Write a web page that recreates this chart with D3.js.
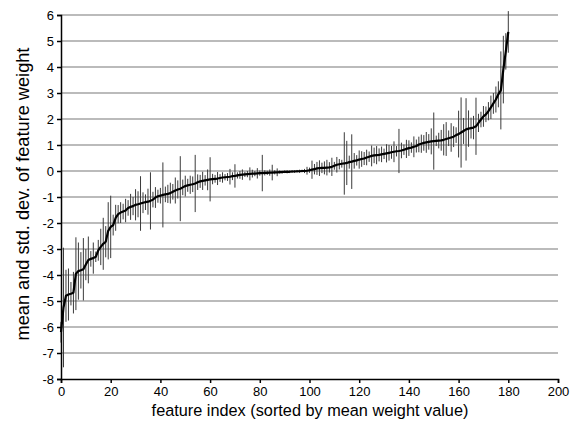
<!DOCTYPE html>
<html>
<head>
<meta charset="utf-8">
<script src="https://cdn.jsdelivr.net/npm/d3@7"></script>
<style>
  body { margin: 0; background: #fff; }
  svg { display: block; font-family: "Liberation Sans", Arial, sans-serif; }
</style>
</head>
<body>
<svg width="578" height="430"></svg>
<script>
const width = 578;
const height = 430;
const margin = { top: 15, right: 20, bottom: 51, left: 61 };

// mean weight per feature, sorted (index 0..180)
const means = [
  -6.2, -5.25, -4.8, -4.75, -4.72, -4.68, -3.95, -3.85, -3.82, -3.78,
  -3.6, -3.42, -3.38, -3.35, -3.3, -3.05, -2.92, -2.8, -2.72, -2.3,
  -2.15, -2.08, -1.8, -1.66, -1.6, -1.56, -1.52, -1.42, -1.38, -1.35,
  -1.3, -1.28, -1.25, -1.22, -1.2, -1.18, -1.15, -1.1, -1.02, -0.97,
  -0.95, -0.92, -0.9, -0.88, -0.85, -0.8, -0.75, -0.71, -0.68, -0.63,
  -0.58, -0.55, -0.53, -0.51, -0.48, -0.43, -0.4, -0.38, -0.36, -0.34,
  -0.32, -0.31, -0.3, -0.29, -0.27, -0.25, -0.24, -0.23, -0.22, -0.2,
  -0.19, -0.17, -0.15, -0.14, -0.13, -0.12, -0.11, -0.1, -0.1, -0.09,
  -0.08, -0.08, -0.07, -0.07, -0.06, -0.06, -0.05, -0.05, -0.04, -0.04,
  -0.03, -0.03, -0.03, -0.02, -0.02, -0.01, -0.01, 0, 0, 0.01,
  0.03, 0.05, 0.07, 0.1, 0.11, 0.12, 0.12, 0.13, 0.14, 0.16,
  0.2, 0.24, 0.26, 0.28, 0.29, 0.31, 0.34, 0.36, 0.39, 0.41,
  0.44, 0.46, 0.48, 0.52, 0.55, 0.58, 0.6, 0.61, 0.62, 0.64,
  0.66, 0.68, 0.7, 0.72, 0.74, 0.76, 0.77, 0.79, 0.82, 0.85,
  0.88, 0.9, 0.93, 0.96, 1.02, 1.05, 1.08, 1.1, 1.12, 1.14,
  1.15, 1.16, 1.17, 1.18, 1.2, 1.23, 1.26, 1.29, 1.32, 1.38,
  1.42, 1.48, 1.54, 1.6, 1.63, 1.65, 1.67, 1.72, 1.85, 1.98,
  2.1, 2.18, 2.3, 2.45, 2.6, 2.75, 2.95, 3.1, 3.9, 4.6,
  5.35
];

// std. dev. per feature
const stdDevs = [
  0.4, 2.3, 1.0, 1.0, 0.45, 0.8, 1.4, 1.1, 0.7, 1.2,
  0.6, 0.9, 0.3, 0.6, 0.2, 0.4, 0.7, 1.0, 0.6, 1.1,
  1.2, 0.4, 0.5, 0.35, 0.4, 0.3, 0.45, 0.3, 0.5, 0.35,
  0.6, 0.5, 1.05, 0.4, 0.3, 0.5, 1.1, 0.3, 0.4, 0.25,
  0.3, 1.25, 0.3, 0.35, 0.4, 0.3, 0.5, 0.35, 1.25, 0.3,
  0.4, 0.25, 0.35, 0.3, 1.1, 0.3, 0.25, 0.35, 0.2, 0.4,
  0.85, 0.2, 0.15, 0.25, 0.15, 0.2, 0.12, 0.15, 0.3, 0.15,
  0.45, 0.12, 0.15, 0.2, 0.1, 0.12, 0.25, 0.15, 0.1, 0.2,
  0.1, 0.7, 0.1, 0.08, 0.12, 0.3, 0.08, 0.15, 0.06, 0.05,
  0.05, 0.06, 0.05, 0.05, 0.05, 0.05, 0.06, 0.05, 0.08, 0.15,
  0.1, 0.35, 0.2, 0.25, 0.3, 0.2, 0.25, 0.3, 0.2, 0.35,
  0.15, 0.3, 0.2, 0.15, 1.2, 0.85, 0.25, 1.05, 0.3, 0.2,
  0.35, 0.3, 0.25, 0.3, 0.2, 0.4, 0.3, 0.35, 0.25, 0.3,
  0.2, 0.35, 0.3, 0.25, 0.4, 0.2, 0.85, 0.3, 0.2, 0.35,
  0.3, 0.2, 0.4, 0.25, 0.3, 0.35, 0.3, 0.4, 0.3, 0.5,
  1.1, 0.2, 0.3, 0.4, 0.6, 0.65, 0.3, 0.55, 0.4, 0.3,
  0.9, 1.35, 0.5, 1.2, 0.7, 0.4, 0.45, 1.1, 0.35, 0.3,
  0.4, 0.3, 0.35, 0.45, 0.4, 0.5, 0.5, 1.5, 1.3, 0.7,
  0.8
];

const xTicks = [0, 20, 40, 60, 80, 100, 120, 140, 160, 180, 200];
const yTicks = [-8, -7, -6, -5, -4, -3, -2, -1, 0, 1, 2, 3, 4, 5, 6];

const data = means.map((m, i) => ({ i, mean: m, sd: stdDevs[i] }));

const x = d3.scaleLinear().domain([0, 200]).range([margin.left, width - margin.right]);
const y = d3.scaleLinear().domain([-8, 6]).range([height - margin.bottom, margin.top]);

const svg = d3.select("svg");

// gridlines
svg.append("g")
  .selectAll("line")
  .data(yTicks.filter(d => d > -8))
  .join("line")
  .attr("x1", x(0))
  .attr("x2", x(200))
  .attr("y1", d => y(d))
  .attr("y2", d => y(d))
  .attr("stroke", "#a4a4a4")
  .attr("stroke-width", 1.5);

// error bars
svg.append("g")
  .attr("stroke", "#3a3a3a")
  .attr("stroke-width", 1)
  .selectAll("line")
  .data(data)
  .join("line")
  .attr("x1", d => x(d.i))
  .attr("x2", d => x(d.i))
  .attr("y1", d => y(d.mean + d.sd))
  .attr("y2", d => y(d.mean - d.sd));

// mean line
svg.append("path")
  .datum(data)
  .attr("fill", "none")
  .attr("stroke", "#000")
  .attr("stroke-width", 2.2)
  .attr("stroke-linejoin", "round")
  .attr("d", d3.line().x(d => x(d.i)).y(d => y(d.mean)));

const xAxis = svg.append("g")
  .attr("transform", `translate(0,${y(-8)})`)
  .call(d3.axisBottom(x).tickValues(xTicks).tickSize(4).tickPadding(4).tickFormat(d => String(d)));

const yAxis = svg.append("g")
  .attr("transform", `translate(${x(0)},0)`)
  .call(d3.axisLeft(y).tickValues(yTicks).tickSize(4).tickPadding(3).tickFormat(d => String(d)));

[xAxis, yAxis].forEach(g => {
  g.select(".domain").attr("stroke", "#000").attr("stroke-width", 1.5);
  g.selectAll(".tick line").attr("stroke", "#000").attr("stroke-width", 1.5);
  g.selectAll(".tick text")
    .attr("fill", "#000")
    .attr("font-size", 13)
    .attr("font-family", "Liberation Sans, Arial, sans-serif");
});

// axis titles
svg.append("text")
  .attr("x", 310)
  .attr("y", 416)
  .attr("text-anchor", "middle")
  .attr("font-size", 16.3)
  .text("feature index (sorted by mean weight value)");

svg.append("text")
  .attr("transform", `translate(29,194) rotate(-90)`)
  .attr("text-anchor", "middle")
  .attr("font-size", 18.2)
  .text("mean and std. dev. of feature weight");
</script>
</body>
</html>
